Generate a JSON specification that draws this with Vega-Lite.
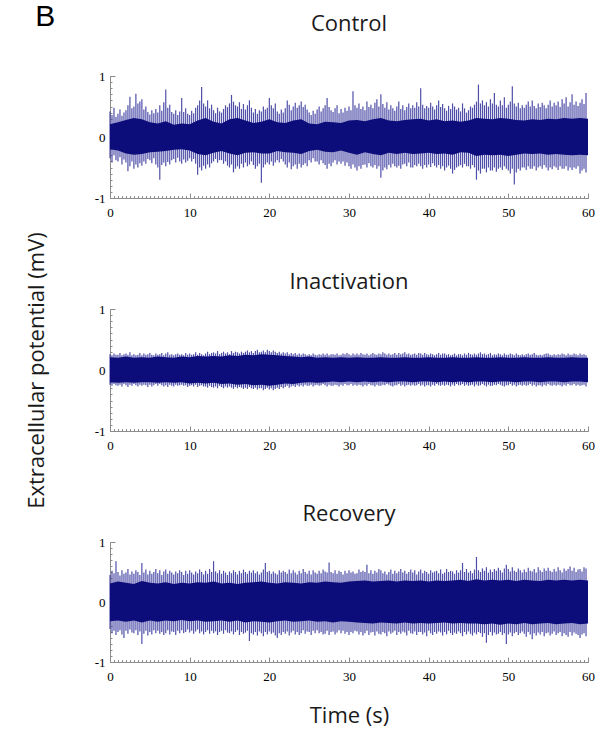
{
"$schema": "https://vega.github.io/schema/vega-lite/v6.json",
"padding": {"left": 25, "top": 2, "right": 5, "bottom": 5},
"background": "white",
"title": {"text": "B", "anchor": "start", "font": "Liberation Sans", "fontSize": 30, "fontWeight": "normal", "color": "#000", "baseline": "alphabetic", "offset": -43, "dx": 10},
"bounds": "flush",
"spacing": 111,
"vconcat": [
{
"title": {"text": "Control", "offset": 17, "frame": "group", "baseline": "alphabetic"},
"width": 478, "height": 122,
"resolve": {"axis": {"x": "independent", "y": "independent"}},
"layer": [
{"data": {"values": [
{"t":0,"h":0.42,"l":-0.35},{"t":0.25,"h":0.36,"l":-0.42},{"t":0.5,"h":0.48,"l":-0.3},{"t":0.75,"h":0.33,"l":-0.38},
{"t":1,"h":0.38,"l":-0.4},{"t":1.25,"h":0.45,"l":-0.33},{"t":1.5,"h":0.35,"l":-0.45},{"t":1.75,"h":0.4,"l":-0.37},
{"t":2,"h":0.44,"l":-0.42},{"t":2.25,"h":0.52,"l":-0.56},{"t":2.5,"h":0.66,"l":-0.48},{"t":2.75,"h":0.47,"l":-0.4},
{"t":3,"h":0.5,"l":-0.52},{"t":3.25,"h":0.71,"l":-0.45},{"t":3.5,"h":0.55,"l":-0.5},{"t":3.75,"h":0.58,"l":-0.43},
{"t":4,"h":0.62,"l":-0.47},{"t":4.25,"h":0.45,"l":-0.4},{"t":4.5,"h":0.5,"l":-0.44},{"t":4.75,"h":0.41,"l":-0.36},
{"t":5,"h":0.37,"l":-0.38},{"t":5.25,"h":0.44,"l":-0.43},{"t":5.5,"h":0.39,"l":-0.35},{"t":5.75,"h":0.46,"l":-0.45},
{"t":6,"h":0.4,"l":-0.5},{"t":6.25,"h":0.52,"l":-0.7},{"t":6.5,"h":0.43,"l":-0.46},{"t":6.75,"h":0.57,"l":-0.42},
{"t":7,"h":0.78,"l":-0.48},{"t":7.25,"h":0.48,"l":-0.41},{"t":7.5,"h":0.53,"l":-0.45},{"t":7.75,"h":0.41,"l":-0.38},
{"t":8,"h":0.38,"l":-0.36},{"t":8.25,"h":0.44,"l":-0.42},{"t":8.5,"h":0.36,"l":-0.34},{"t":8.75,"h":0.42,"l":-0.4},
{"t":9,"h":0.64,"l":-0.44},{"t":9.25,"h":0.41,"l":-0.37},{"t":9.5,"h":0.47,"l":-0.42},{"t":9.75,"h":0.38,"l":-0.39},
{"t":10,"h":0.36,"l":-0.35},{"t":10.25,"h":0.43,"l":-0.4},{"t":10.5,"h":0.39,"l":-0.36},{"t":10.75,"h":0.48,"l":-0.44},
{"t":11,"h":0.52,"l":-0.62},{"t":11.25,"h":0.6,"l":-0.5},{"t":11.5,"h":0.82,"l":-0.55},{"t":11.75,"h":0.55,"l":-0.47},
{"t":12,"h":0.5,"l":-0.52},{"t":12.25,"h":0.6,"l":-0.45},{"t":12.5,"h":0.47,"l":-0.5},{"t":12.75,"h":0.53,"l":-0.43},
{"t":13,"h":0.44,"l":-0.4},{"t":13.25,"h":0.39,"l":-0.36},{"t":13.5,"h":0.48,"l":-0.42},{"t":13.75,"h":0.42,"l":-0.38},
{"t":14,"h":0.4,"l":-0.38},{"t":14.25,"h":0.46,"l":-0.44},{"t":14.5,"h":0.52,"l":-0.4},{"t":14.75,"h":0.49,"l":-0.47},
{"t":15,"h":0.55,"l":-0.5},{"t":15.25,"h":0.69,"l":-0.45},{"t":15.5,"h":0.58,"l":-0.58},{"t":15.75,"h":0.52,"l":-0.52},
{"t":16,"h":0.5,"l":-0.48},{"t":16.25,"h":0.57,"l":-0.52},{"t":16.5,"h":0.46,"l":-0.44},{"t":16.75,"h":0.54,"l":-0.5},
{"t":17,"h":0.45,"l":-0.42},{"t":17.25,"h":0.52,"l":-0.48},{"t":17.5,"h":0.6,"l":-0.45},{"t":17.75,"h":0.48,"l":-0.4},
{"t":18,"h":0.4,"l":-0.46},{"t":18.25,"h":0.46,"l":-0.52},{"t":18.5,"h":0.38,"l":-0.48},{"t":18.75,"h":0.44,"l":-0.44},
{"t":19,"h":0.42,"l":-0.75},{"t":19.25,"h":0.5,"l":-0.5},{"t":19.5,"h":0.45,"l":-0.45},{"t":19.75,"h":0.48,"l":-0.42},
{"t":20,"h":0.64,"l":-0.45},{"t":20.25,"h":0.52,"l":-0.4},{"t":20.5,"h":0.47,"l":-0.47},{"t":20.75,"h":0.55,"l":-0.42},
{"t":21,"h":0.42,"l":-0.38},{"t":21.25,"h":0.38,"l":-0.42},{"t":21.5,"h":0.45,"l":-0.36},{"t":21.75,"h":0.4,"l":-0.4},
{"t":22,"h":0.47,"l":-0.45},{"t":22.25,"h":0.6,"l":-0.5},{"t":22.5,"h":0.53,"l":-0.42},{"t":22.75,"h":0.44,"l":-0.53},
{"t":23,"h":0.5,"l":-0.48},{"t":23.25,"h":0.56,"l":-0.45},{"t":23.5,"h":0.48,"l":-0.52},{"t":23.75,"h":0.52,"l":-0.44},
{"t":24,"h":0.58,"l":-0.5},{"t":24.25,"h":0.49,"l":-0.46},{"t":24.5,"h":0.53,"l":-0.43},{"t":24.75,"h":0.45,"l":-0.48},
{"t":25,"h":0.4,"l":-0.38},{"t":25.25,"h":0.36,"l":-0.42},{"t":25.5,"h":0.43,"l":-0.35},{"t":25.75,"h":0.38,"l":-0.4},
{"t":26,"h":0.45,"l":-0.4},{"t":26.25,"h":0.5,"l":-0.45},{"t":26.5,"h":0.42,"l":-0.38},{"t":26.75,"h":0.47,"l":-0.43},
{"t":27,"h":0.52,"l":-0.46},{"t":27.25,"h":0.64,"l":-0.52},{"t":27.5,"h":0.49,"l":-0.44},{"t":27.75,"h":0.44,"l":-0.48},
{"t":28,"h":0.41,"l":-0.42},{"t":28.25,"h":0.47,"l":-0.38},{"t":28.5,"h":0.52,"l":-0.45},{"t":28.75,"h":0.39,"l":-0.4},
{"t":29,"h":0.46,"l":-0.44},{"t":29.25,"h":0.4,"l":-0.4},{"t":29.5,"h":0.48,"l":-0.47},{"t":29.75,"h":0.43,"l":-0.42},
{"t":30,"h":0.5,"l":-0.48},{"t":30.25,"h":0.44,"l":-0.52},{"t":30.5,"h":0.75,"l":-0.45},{"t":30.75,"h":0.52,"l":-0.5},
{"t":31,"h":0.48,"l":-0.55},{"t":31.25,"h":0.55,"l":-0.48},{"t":31.5,"h":0.46,"l":-0.52},{"t":31.75,"h":0.5,"l":-0.46},
{"t":32,"h":0.44,"l":-0.45},{"t":32.25,"h":0.58,"l":-0.5},{"t":32.5,"h":0.49,"l":-0.43},{"t":32.75,"h":0.53,"l":-0.48},
{"t":33,"h":0.47,"l":-0.5},{"t":33.25,"h":0.56,"l":-0.46},{"t":33.5,"h":0.62,"l":-0.52},{"t":33.75,"h":0.5,"l":-0.48},
{"t":34,"h":0.7,"l":-0.67},{"t":34.25,"h":0.54,"l":-0.55},{"t":34.5,"h":0.48,"l":-0.5},{"t":34.75,"h":0.57,"l":-0.53},
{"t":35,"h":0.45,"l":-0.46},{"t":35.25,"h":0.52,"l":-0.5},{"t":35.5,"h":0.47,"l":-0.44},{"t":35.75,"h":0.43,"l":-0.48},
{"t":36,"h":0.5,"l":-0.5},{"t":36.25,"h":0.58,"l":-0.47},{"t":36.5,"h":0.46,"l":-0.52},{"t":36.75,"h":0.52,"l":-0.45},
{"t":37,"h":0.44,"l":-0.44},{"t":37.25,"h":0.49,"l":-0.48},{"t":37.5,"h":0.55,"l":-0.42},{"t":37.75,"h":0.47,"l":-0.5},
{"t":38,"h":0.52,"l":-0.5},{"t":38.25,"h":0.48,"l":-0.46},{"t":38.5,"h":0.57,"l":-0.48},{"t":38.75,"h":0.5,"l":-0.44},
{"t":39,"h":0.8,"l":-0.48},{"t":39.25,"h":0.53,"l":-0.52},{"t":39.5,"h":0.47,"l":-0.46},{"t":39.75,"h":0.51,"l":-0.5},
{"t":40,"h":0.48,"l":-0.45},{"t":40.25,"h":0.56,"l":-0.49},{"t":40.5,"h":0.5,"l":-0.43},{"t":40.75,"h":0.45,"l":-0.47},
{"t":41,"h":0.52,"l":-0.5},{"t":41.25,"h":0.6,"l":-0.46},{"t":41.5,"h":0.49,"l":-0.52},{"t":41.75,"h":0.54,"l":-0.48},
{"t":42,"h":0.47,"l":-0.55},{"t":42.25,"h":0.43,"l":-0.5},{"t":42.5,"h":0.51,"l":-0.47},{"t":42.75,"h":0.46,"l":-0.52},
{"t":43,"h":0.55,"l":-0.6},{"t":43.25,"h":0.5,"l":-0.54},{"t":43.5,"h":0.45,"l":-0.5},{"t":43.75,"h":0.48,"l":-0.48},
{"t":44,"h":0.42,"l":-0.46},{"t":44.25,"h":0.55,"l":-0.5},{"t":44.5,"h":0.47,"l":-0.44},{"t":44.75,"h":0.4,"l":-0.48},
{"t":45,"h":0.44,"l":-0.48},{"t":45.25,"h":0.5,"l":-0.52},{"t":45.5,"h":0.48,"l":-0.46},{"t":45.75,"h":0.53,"l":-0.5},
{"t":46,"h":0.58,"l":-0.7},{"t":46.25,"h":0.86,"l":-0.55},{"t":46.5,"h":0.55,"l":-0.6},{"t":46.75,"h":0.6,"l":-0.52},
{"t":47,"h":0.52,"l":-0.52},{"t":47.25,"h":0.57,"l":-0.58},{"t":47.5,"h":0.5,"l":-0.5},{"t":47.75,"h":0.62,"l":-0.55},
{"t":48,"h":0.55,"l":-0.55},{"t":48.25,"h":0.72,"l":-0.5},{"t":48.5,"h":0.53,"l":-0.57},{"t":48.75,"h":0.5,"l":-0.52},
{"t":49,"h":0.6,"l":-0.5},{"t":49.25,"h":0.52,"l":-0.54},{"t":49.5,"h":0.65,"l":-0.48},{"t":49.75,"h":0.48,"l":-0.52},
{"t":50,"h":0.53,"l":-0.55},{"t":50.25,"h":0.58,"l":-0.6},{"t":50.5,"h":0.83,"l":-0.52},{"t":50.75,"h":0.55,"l":-0.78},
{"t":51,"h":0.5,"l":-0.58},{"t":51.25,"h":0.56,"l":-0.52},{"t":51.5,"h":0.47,"l":-0.55},{"t":51.75,"h":0.52,"l":-0.5},
{"t":52,"h":0.48,"l":-0.5},{"t":52.25,"h":0.53,"l":-0.54},{"t":52.5,"h":0.58,"l":-0.48},{"t":52.75,"h":0.5,"l":-0.52},
{"t":53,"h":0.6,"l":-0.52},{"t":53.25,"h":0.51,"l":-0.48},{"t":53.5,"h":0.47,"l":-0.55},{"t":53.75,"h":0.55,"l":-0.5},
{"t":54,"h":0.49,"l":-0.48},{"t":54.25,"h":0.56,"l":-0.52},{"t":54.5,"h":0.52,"l":-0.46},{"t":54.75,"h":0.47,"l":-0.5},
{"t":55,"h":0.53,"l":-0.55},{"t":55.25,"h":0.6,"l":-0.5},{"t":55.5,"h":0.5,"l":-0.53},{"t":55.75,"h":0.56,"l":-0.48},
{"t":56,"h":0.52,"l":-0.5},{"t":56.25,"h":0.58,"l":-0.54},{"t":56.5,"h":0.49,"l":-0.48},{"t":56.75,"h":0.62,"l":-0.52},
{"t":57,"h":0.55,"l":-0.52},{"t":57.25,"h":0.65,"l":-0.48},{"t":57.5,"h":0.5,"l":-0.55},{"t":57.75,"h":0.57,"l":-0.5},
{"t":58,"h":0.7,"l":-0.54},{"t":58.25,"h":0.53,"l":-0.5},{"t":58.5,"h":0.58,"l":-0.52},{"t":58.75,"h":0.51,"l":-0.48},
{"t":59,"h":0.56,"l":-0.6},{"t":59.25,"h":0.62,"l":-0.55},{"t":59.5,"h":0.54,"l":-0.52},{"t":59.75,"h":0.72,"l":-0.58}
]},
 "mark": {"type": "rule", "color": "#30309a", "strokeWidth": 1.2, "opacity": 0.85},
 "encoding": {
  "x": {"field": "t", "type": "quantitative", "scale": {"domain": [0, 60], "nice": false}, "axis": {"orient": "bottom", "values": [0,10,20,30,40,50,60], "ticks": false, "labelPadding": 8, "labelFlush": false, "labelOverlap": false, "title": null}},
  "y": {"field": "l", "type": "quantitative", "scale": {"domain": [-1, 1], "nice": false}, "axis": {"orient": "left", "values": [-1,0,1], "ticks": false, "labelPadding": 5, "labelExpr": "toString(datum.value)", "title": null}},
  "y2": {"field": "h"}}},
{"data": {"name": "coreC", "values": [
{"t":0,"ch":0.21,"cl":-0.2},{"t":1,"ch":0.24,"cl":-0.22},{"t":2,"ch":0.28,"cl":-0.27},{"t":3,"ch":0.31,"cl":-0.29},{"t":4,"ch":0.29,"cl":-0.28},{"t":5,"ch":0.24,"cl":-0.25},{"t":6,"ch":0.22,"cl":-0.24},{"t":7,"ch":0.26,"cl":-0.23},{"t":8,"ch":0.2,"cl":-0.21},{"t":9,"ch":0.22,"cl":-0.2},
{"t":10,"ch":0.21,"cl":-0.22},{"t":11,"ch":0.27,"cl":-0.28},{"t":12,"ch":0.31,"cl":-0.3},{"t":13,"ch":0.25,"cl":-0.26},{"t":14,"ch":0.22,"cl":-0.23},{"t":15,"ch":0.29,"cl":-0.27},{"t":16,"ch":0.31,"cl":-0.3},{"t":17,"ch":0.27,"cl":-0.26},{"t":18,"ch":0.23,"cl":-0.25},{"t":19,"ch":0.25,"cl":-0.27},
{"t":20,"ch":0.29,"cl":-0.27},{"t":21,"ch":0.24,"cl":-0.23},{"t":22,"ch":0.23,"cl":-0.25},{"t":23,"ch":0.27,"cl":-0.26},{"t":24,"ch":0.29,"cl":-0.28},{"t":25,"ch":0.22,"cl":-0.23},{"t":26,"ch":0.21,"cl":-0.21},{"t":27,"ch":0.25,"cl":-0.24},{"t":28,"ch":0.24,"cl":-0.25},{"t":29,"ch":0.23,"cl":-0.22},
{"t":30,"ch":0.27,"cl":-0.26},{"t":31,"ch":0.28,"cl":-0.29},{"t":32,"ch":0.26,"cl":-0.25},{"t":33,"ch":0.29,"cl":-0.28},{"t":34,"ch":0.31,"cl":-0.3},{"t":35,"ch":0.27,"cl":-0.26},{"t":36,"ch":0.26,"cl":-0.28},{"t":37,"ch":0.28,"cl":-0.26},{"t":38,"ch":0.29,"cl":-0.28},{"t":39,"ch":0.3,"cl":-0.27},
{"t":40,"ch":0.27,"cl":-0.26},{"t":41,"ch":0.29,"cl":-0.28},{"t":42,"ch":0.26,"cl":-0.27},{"t":43,"ch":0.27,"cl":-0.29},{"t":44,"ch":0.25,"cl":-0.25},{"t":45,"ch":0.27,"cl":-0.26},{"t":46,"ch":0.31,"cl":-0.31},{"t":47,"ch":0.3,"cl":-0.29},{"t":48,"ch":0.29,"cl":-0.3},{"t":49,"ch":0.31,"cl":-0.29},
{"t":50,"ch":0.3,"cl":-0.31},{"t":51,"ch":0.28,"cl":-0.29},{"t":52,"ch":0.27,"cl":-0.27},{"t":53,"ch":0.29,"cl":-0.28},{"t":54,"ch":0.28,"cl":-0.27},{"t":55,"ch":0.3,"cl":-0.29},{"t":56,"ch":0.29,"cl":-0.28},{"t":57,"ch":0.31,"cl":-0.29},{"t":58,"ch":0.3,"cl":-0.3},{"t":59,"ch":0.31,"cl":-0.29},{"t":60,"ch":0.3,"cl":-0.3}
]},
 "mark": {"type": "area", "color": "#0c0c7a"},
 "encoding": {
  "x": {"field": "t", "type": "quantitative", "axis": {"orient": "bottom", "values": [0,10,20,30,40,50,60], "labels": false, "domain": false, "tickSize": -5, "title": null}},
  "y": {"field": "ch", "type": "quantitative", "stack": null, "axis": {"orient": "left", "values": [-1,0,1], "labels": false, "domain": false, "tickSize": -5, "title": null}}}},
{"data": {"name": "coreC"},
 "mark": {"type": "area", "color": "#0c0c7a"},
 "encoding": {
  "x": {"field": "t", "type": "quantitative", "axis": {"orient": "bottom", "tickCount": 120, "labels": false, "domain": false, "tickSize": -2.5, "title": null}},
  "y": {"field": "cl", "type": "quantitative", "stack": null, "axis": {"orient": "left", "tickCount": 20, "labels": false, "domain": false, "tickSize": -2, "title": null}}}}
]
},
{
"title": {"text": "Inactivation", "offset": -79, "frame": "group", "baseline": "alphabetic"},
"width": 478, "height": 122,
"resolve": {"axis": {"x": "independent", "y": "independent"}},
"layer": [
{"data": {"values": [
{"t":0,"h":0.26,"l":-0.24},{"t":0.25,"h":0.24,"l":-0.26},{"t":0.5,"h":0.27,"l":-0.23},{"t":0.75,"h":0.25,"l":-0.25},
{"t":1,"h":0.25,"l":-0.26},{"t":1.25,"h":0.28,"l":-0.24},{"t":1.5,"h":0.24,"l":-0.27},{"t":1.75,"h":0.26,"l":-0.23},
{"t":2,"h":0.27,"l":-0.25},{"t":2.25,"h":0.25,"l":-0.28},{"t":2.5,"h":0.29,"l":-0.24},{"t":2.75,"h":0.24,"l":-0.26},
{"t":3,"h":0.26,"l":-0.23},{"t":3.25,"h":0.24,"l":-0.25},{"t":3.5,"h":0.25,"l":-0.27},{"t":3.75,"h":0.28,"l":-0.24},
{"t":4,"h":0.24,"l":-0.26},{"t":4.25,"h":0.27,"l":-0.24},{"t":4.5,"h":0.25,"l":-0.25},{"t":4.75,"h":0.26,"l":-0.28},
{"t":5,"h":0.28,"l":-0.24},{"t":5.25,"h":0.25,"l":-0.27},{"t":5.5,"h":0.24,"l":-0.25},{"t":5.75,"h":0.27,"l":-0.23},
{"t":6,"h":0.25,"l":-0.26},{"t":6.25,"h":0.26,"l":-0.23},{"t":6.5,"h":0.28,"l":-0.25},{"t":6.75,"h":0.24,"l":-0.27},
{"t":7,"h":0.27,"l":-0.25},{"t":7.25,"h":0.29,"l":-0.28},{"t":7.5,"h":0.25,"l":-0.24},{"t":7.75,"h":0.26,"l":-0.26},
{"t":8,"h":0.24,"l":-0.27},{"t":8.25,"h":0.26,"l":-0.24},{"t":8.5,"h":0.27,"l":-0.26},{"t":8.75,"h":0.25,"l":-0.25},
{"t":9,"h":0.26,"l":-0.24},{"t":9.25,"h":0.24,"l":-0.26},{"t":9.5,"h":0.28,"l":-0.25},{"t":9.75,"h":0.25,"l":-0.28},
{"t":10,"h":0.27,"l":-0.26},{"t":10.25,"h":0.25,"l":-0.25},{"t":10.5,"h":0.26,"l":-0.27},{"t":10.75,"h":0.29,"l":-0.24},
{"t":11,"h":0.25,"l":-0.28},{"t":11.25,"h":0.28,"l":-0.26},{"t":11.5,"h":0.26,"l":-0.25},{"t":11.75,"h":0.24,"l":-0.27},
{"t":12,"h":0.27,"l":-0.27},{"t":12.25,"h":0.3,"l":-0.29},{"t":12.5,"h":0.26,"l":-0.26},{"t":12.75,"h":0.28,"l":-0.28},
{"t":13,"h":0.29,"l":-0.29},{"t":13.25,"h":0.27,"l":-0.27},{"t":13.5,"h":0.31,"l":-0.3},{"t":13.75,"h":0.26,"l":-0.26},
{"t":14,"h":0.28,"l":-0.28},{"t":14.25,"h":0.3,"l":-0.3},{"t":14.5,"h":0.27,"l":-0.27},{"t":14.75,"h":0.29,"l":-0.29},
{"t":15,"h":0.26,"l":-0.27},{"t":15.25,"h":0.31,"l":-0.29},{"t":15.5,"h":0.28,"l":-0.31},{"t":15.75,"h":0.3,"l":-0.28},
{"t":16,"h":0.29,"l":-0.3},{"t":16.25,"h":0.27,"l":-0.28},{"t":16.5,"h":0.3,"l":-0.29},{"t":16.75,"h":0.28,"l":-0.31},
{"t":17,"h":0.3,"l":-0.29},{"t":17.25,"h":0.32,"l":-0.31},{"t":17.5,"h":0.29,"l":-0.28},{"t":17.75,"h":0.31,"l":-0.3},
{"t":18,"h":0.28,"l":-0.31},{"t":18.25,"h":0.31,"l":-0.29},{"t":18.5,"h":0.33,"l":-0.32},{"t":18.75,"h":0.29,"l":-0.3},
{"t":19,"h":0.3,"l":-0.3},{"t":19.25,"h":0.32,"l":-0.33},{"t":19.5,"h":0.29,"l":-0.31},{"t":19.75,"h":0.33,"l":-0.29},
{"t":20,"h":0.31,"l":-0.32},{"t":20.25,"h":0.29,"l":-0.3},{"t":20.5,"h":0.32,"l":-0.33},{"t":20.75,"h":0.3,"l":-0.31},
{"t":21,"h":0.28,"l":-0.29},{"t":21.25,"h":0.3,"l":-0.31},{"t":21.5,"h":0.27,"l":-0.28},{"t":21.75,"h":0.29,"l":-0.3},
{"t":22,"h":0.27,"l":-0.28},{"t":22.25,"h":0.29,"l":-0.26},{"t":22.5,"h":0.26,"l":-0.29},{"t":22.75,"h":0.28,"l":-0.27},
{"t":23,"h":0.26,"l":-0.26},{"t":23.25,"h":0.28,"l":-0.28},{"t":23.5,"h":0.25,"l":-0.25},{"t":23.75,"h":0.27,"l":-0.27},
{"t":24,"h":0.25,"l":-0.25},{"t":24.25,"h":0.27,"l":-0.27},{"t":24.5,"h":0.26,"l":-0.24},{"t":24.75,"h":0.24,"l":-0.26},
{"t":25,"h":0.26,"l":-0.26},{"t":25.25,"h":0.24,"l":-0.24},{"t":25.5,"h":0.27,"l":-0.27},{"t":25.75,"h":0.25,"l":-0.25},
{"t":26,"h":0.24,"l":-0.24},{"t":26.25,"h":0.26,"l":-0.26},{"t":26.5,"h":0.25,"l":-0.25},{"t":26.75,"h":0.27,"l":-0.23},
{"t":27,"h":0.25,"l":-0.25},{"t":27.25,"h":0.27,"l":-0.27},{"t":27.5,"h":0.24,"l":-0.24},{"t":27.75,"h":0.26,"l":-0.26},
{"t":28,"h":0.26,"l":-0.26},{"t":28.25,"h":0.25,"l":-0.24},{"t":28.5,"h":0.27,"l":-0.25},{"t":28.75,"h":0.24,"l":-0.27},
{"t":29,"h":0.25,"l":-0.24},{"t":29.25,"h":0.27,"l":-0.26},{"t":29.5,"h":0.26,"l":-0.23},{"t":29.75,"h":0.28,"l":-0.25},
{"t":30,"h":0.26,"l":-0.25},{"t":30.25,"h":0.24,"l":-0.23},{"t":30.5,"h":0.27,"l":-0.26},{"t":30.75,"h":0.25,"l":-0.24},
{"t":31,"h":0.27,"l":-0.26},{"t":31.25,"h":0.25,"l":-0.24},{"t":31.5,"h":0.28,"l":-0.25},{"t":31.75,"h":0.26,"l":-0.27},
{"t":32,"h":0.25,"l":-0.24},{"t":32.25,"h":0.27,"l":-0.26},{"t":32.5,"h":0.24,"l":-0.23},{"t":32.75,"h":0.26,"l":-0.25},
{"t":33,"h":0.28,"l":-0.25},{"t":33.25,"h":0.26,"l":-0.27},{"t":33.5,"h":0.25,"l":-0.24},{"t":33.75,"h":0.27,"l":-0.26},
{"t":34,"h":0.26,"l":-0.26},{"t":34.25,"h":0.29,"l":-0.24},{"t":34.5,"h":0.27,"l":-0.25},{"t":34.75,"h":0.25,"l":-0.23},
{"t":35,"h":0.27,"l":-0.24},{"t":35.25,"h":0.25,"l":-0.26},{"t":35.5,"h":0.26,"l":-0.27},{"t":35.75,"h":0.28,"l":-0.25},
{"t":36,"h":0.25,"l":-0.25},{"t":36.25,"h":0.28,"l":-0.23},{"t":36.5,"h":0.26,"l":-0.26},{"t":36.75,"h":0.27,"l":-0.24},
{"t":37,"h":0.29,"l":-0.27},{"t":37.25,"h":0.26,"l":-0.25},{"t":37.5,"h":0.27,"l":-0.24},{"t":37.75,"h":0.25,"l":-0.26},
{"t":38,"h":0.26,"l":-0.24},{"t":38.25,"h":0.27,"l":-0.26},{"t":38.5,"h":0.25,"l":-0.25},{"t":38.75,"h":0.28,"l":-0.23},
{"t":39,"h":0.27,"l":-0.26},{"t":39.25,"h":0.25,"l":-0.24},{"t":39.5,"h":0.28,"l":-0.27},{"t":39.75,"h":0.26,"l":-0.25},
{"t":40,"h":0.25,"l":-0.25},{"t":40.25,"h":0.27,"l":-0.27},{"t":40.5,"h":0.26,"l":-0.24},{"t":40.75,"h":0.24,"l":-0.26},
{"t":41,"h":0.26,"l":-0.23},{"t":41.25,"h":0.28,"l":-0.25},{"t":41.5,"h":0.25,"l":-0.26},{"t":41.75,"h":0.27,"l":-0.24},
{"t":42,"h":0.27,"l":-0.26},{"t":42.25,"h":0.25,"l":-0.24},{"t":42.5,"h":0.26,"l":-0.25},{"t":42.75,"h":0.24,"l":-0.27},
{"t":43,"h":0.25,"l":-0.24},{"t":43.25,"h":0.27,"l":-0.26},{"t":43.5,"h":0.24,"l":-0.23},{"t":43.75,"h":0.26,"l":-0.25},
{"t":44,"h":0.26,"l":-0.25},{"t":44.25,"h":0.24,"l":-0.23},{"t":44.5,"h":0.27,"l":-0.26},{"t":44.75,"h":0.25,"l":-0.24},
{"t":45,"h":0.28,"l":-0.26},{"t":45.25,"h":0.26,"l":-0.25},{"t":45.5,"h":0.25,"l":-0.24},{"t":45.75,"h":0.27,"l":-0.27},
{"t":46,"h":0.25,"l":-0.24},{"t":46.25,"h":0.27,"l":-0.26},{"t":46.5,"h":0.29,"l":-0.25},{"t":46.75,"h":0.26,"l":-0.23},
{"t":47,"h":0.27,"l":-0.25},{"t":47.25,"h":0.25,"l":-0.27},{"t":47.5,"h":0.26,"l":-0.24},{"t":47.75,"h":0.28,"l":-0.26},
{"t":48,"h":0.24,"l":-0.26},{"t":48.25,"h":0.26,"l":-0.24},{"t":48.5,"h":0.25,"l":-0.25},{"t":48.75,"h":0.27,"l":-0.23},
{"t":49,"h":0.26,"l":-0.24},{"t":49.25,"h":0.24,"l":-0.26},{"t":49.5,"h":0.27,"l":-0.27},{"t":49.75,"h":0.25,"l":-0.25},
{"t":50,"h":0.25,"l":-0.25},{"t":50.25,"h":0.27,"l":-0.23},{"t":50.5,"h":0.26,"l":-0.26},{"t":50.75,"h":0.24,"l":-0.24},
{"t":51,"h":0.27,"l":-0.27},{"t":51.25,"h":0.25,"l":-0.25},{"t":51.5,"h":0.24,"l":-0.24},{"t":51.75,"h":0.26,"l":-0.26},
{"t":52,"h":0.24,"l":-0.24},{"t":52.25,"h":0.26,"l":-0.26},{"t":52.5,"h":0.27,"l":-0.25},{"t":52.75,"h":0.25,"l":-0.23},
{"t":53,"h":0.26,"l":-0.26},{"t":53.25,"h":0.28,"l":-0.24},{"t":53.5,"h":0.25,"l":-0.27},{"t":53.75,"h":0.24,"l":-0.25},
{"t":54,"h":0.25,"l":-0.25},{"t":54.25,"h":0.24,"l":-0.27},{"t":54.5,"h":0.26,"l":-0.24},{"t":54.75,"h":0.27,"l":-0.26},
{"t":55,"h":0.27,"l":-0.23},{"t":55.25,"h":0.25,"l":-0.25},{"t":55.5,"h":0.24,"l":-0.26},{"t":55.75,"h":0.26,"l":-0.24},
{"t":56,"h":0.24,"l":-0.26},{"t":56.25,"h":0.26,"l":-0.24},{"t":56.5,"h":0.25,"l":-0.25},{"t":56.75,"h":0.27,"l":-0.27},
{"t":57,"h":0.26,"l":-0.24},{"t":57.25,"h":0.24,"l":-0.26},{"t":57.5,"h":0.27,"l":-0.23},{"t":57.75,"h":0.25,"l":-0.25},
{"t":58,"h":0.25,"l":-0.25},{"t":58.25,"h":0.27,"l":-0.23},{"t":58.5,"h":0.26,"l":-0.26},{"t":58.75,"h":0.24,"l":-0.24},
{"t":59,"h":0.27,"l":-0.26},{"t":59.25,"h":0.25,"l":-0.25},{"t":59.5,"h":0.26,"l":-0.24},{"t":59.75,"h":0.24,"l":-0.27}
]},
 "mark": {"type": "rule", "color": "#30309a", "strokeWidth": 1.2, "opacity": 0.85},
 "encoding": {
  "x": {"field": "t", "type": "quantitative", "scale": {"domain": [0, 60], "nice": false}, "axis": {"orient": "bottom", "values": [0,10,20,30,40,50,60], "ticks": false, "labelPadding": 8, "labelFlush": false, "labelOverlap": false, "title": null}},
  "y": {"field": "l", "type": "quantitative", "scale": {"domain": [-1, 1], "nice": false}, "axis": {"orient": "left", "values": [-1,0,1], "ticks": false, "labelPadding": 5, "labelExpr": "toString(datum.value)", "title": "Extracellular potential (mV)", "titlePadding": 46}},
  "y2": {"field": "h"}}},
{"data": {"name": "coreI", "values": [
{"t":0,"ch":0.21,"cl":-0.2},{"t":1,"ch":0.2,"cl":-0.21},{"t":2,"ch":0.22,"cl":-0.2},{"t":3,"ch":0.2,"cl":-0.21},{"t":4,"ch":0.21,"cl":-0.2},{"t":5,"ch":0.2,"cl":-0.2},{"t":6,"ch":0.22,"cl":-0.21},{"t":7,"ch":0.21,"cl":-0.2},{"t":8,"ch":0.2,"cl":-0.21},{"t":9,"ch":0.22,"cl":-0.2},
{"t":10,"ch":0.21,"cl":-0.22},{"t":11,"ch":0.23,"cl":-0.21},{"t":12,"ch":0.22,"cl":-0.22},{"t":13,"ch":0.23,"cl":-0.21},{"t":14,"ch":0.22,"cl":-0.23},{"t":15,"ch":0.24,"cl":-0.22},{"t":16,"ch":0.23,"cl":-0.24},{"t":17,"ch":0.25,"cl":-0.23},{"t":18,"ch":0.24,"cl":-0.25},{"t":19,"ch":0.26,"cl":-0.24},
{"t":20,"ch":0.25,"cl":-0.26},{"t":21,"ch":0.24,"cl":-0.24},{"t":22,"ch":0.23,"cl":-0.22},{"t":23,"ch":0.22,"cl":-0.23},{"t":24,"ch":0.21,"cl":-0.21},{"t":25,"ch":0.22,"cl":-0.2},{"t":26,"ch":0.2,"cl":-0.21},{"t":27,"ch":0.21,"cl":-0.2},{"t":28,"ch":0.2,"cl":-0.19},{"t":29,"ch":0.21,"cl":-0.2},
{"t":30,"ch":0.2,"cl":-0.19},{"t":31,"ch":0.21,"cl":-0.2},{"t":32,"ch":0.2,"cl":-0.19},{"t":33,"ch":0.2,"cl":-0.2},{"t":34,"ch":0.21,"cl":-0.19},{"t":35,"ch":0.2,"cl":-0.2},{"t":36,"ch":0.2,"cl":-0.19},{"t":37,"ch":0.21,"cl":-0.19},{"t":38,"ch":0.2,"cl":-0.2},{"t":39,"ch":0.2,"cl":-0.19},
{"t":40,"ch":0.21,"cl":-0.19},{"t":41,"ch":0.2,"cl":-0.2},{"t":42,"ch":0.2,"cl":-0.19},{"t":43,"ch":0.21,"cl":-0.2},{"t":44,"ch":0.2,"cl":-0.19},{"t":45,"ch":0.2,"cl":-0.2},{"t":46,"ch":0.21,"cl":-0.19},{"t":47,"ch":0.2,"cl":-0.19},{"t":48,"ch":0.2,"cl":-0.2},{"t":49,"ch":0.21,"cl":-0.19},
{"t":50,"ch":0.2,"cl":-0.19},{"t":51,"ch":0.2,"cl":-0.2},{"t":52,"ch":0.21,"cl":-0.19},{"t":53,"ch":0.2,"cl":-0.19},{"t":54,"ch":0.2,"cl":-0.2},{"t":55,"ch":0.21,"cl":-0.19},{"t":56,"ch":0.2,"cl":-0.19},{"t":57,"ch":0.2,"cl":-0.2},{"t":58,"ch":0.21,"cl":-0.19},{"t":59,"ch":0.2,"cl":-0.19},{"t":60,"ch":0.2,"cl":-0.2}
]},
 "mark": {"type": "area", "color": "#0c0c7a"},
 "encoding": {
  "x": {"field": "t", "type": "quantitative", "axis": {"orient": "bottom", "values": [0,10,20,30,40,50,60], "labels": false, "domain": false, "tickSize": -5, "title": null}},
  "y": {"field": "ch", "type": "quantitative", "stack": null, "axis": {"orient": "left", "values": [-1,0,1], "labels": false, "domain": false, "tickSize": -5, "title": null}}}},
{"data": {"name": "coreI"},
 "mark": {"type": "area", "color": "#0c0c7a"},
 "encoding": {
  "x": {"field": "t", "type": "quantitative", "axis": {"orient": "bottom", "tickCount": 120, "labels": false, "domain": false, "tickSize": -2.5, "title": null}},
  "y": {"field": "cl", "type": "quantitative", "stack": null, "axis": {"orient": "left", "tickCount": 20, "labels": false, "domain": false, "tickSize": -2, "title": null}}}}
]
},
{
"title": {"text": "Recovery", "offset": -7, "frame": "group", "baseline": "alphabetic"},
"width": 478, "height": 120,
"resolve": {"axis": {"x": "independent", "y": "independent"}},
"layer": [
{"data": {"values": [
{"t":0,"h":0.45,"l":-0.45},{"t":0.25,"h":0.52,"l":-0.52},{"t":0.5,"h":0.48,"l":-0.48},{"t":0.75,"h":0.68,"l":-0.55},
{"t":1,"h":0.5,"l":-0.5},{"t":1.25,"h":0.44,"l":-0.47},{"t":1.5,"h":0.53,"l":-0.54},{"t":1.75,"h":0.47,"l":-0.6},
{"t":2,"h":0.49,"l":-0.48},{"t":2.25,"h":0.55,"l":-0.53},{"t":2.5,"h":0.46,"l":-0.46},{"t":2.75,"h":0.51,"l":-0.51},
{"t":3,"h":0.47,"l":-0.52},{"t":3.25,"h":0.53,"l":-0.47},{"t":3.5,"h":0.5,"l":-0.55},{"t":3.75,"h":0.45,"l":-0.49},
{"t":4,"h":0.65,"l":-0.7},{"t":4.25,"h":0.49,"l":-0.53},{"t":4.5,"h":0.54,"l":-0.48},{"t":4.75,"h":0.46,"l":-0.56},
{"t":5,"h":0.52,"l":-0.5},{"t":5.25,"h":0.47,"l":-0.54},{"t":5.5,"h":0.5,"l":-0.47},{"t":5.75,"h":0.55,"l":-0.52},
{"t":6,"h":0.48,"l":-0.48},{"t":6.25,"h":0.53,"l":-0.53},{"t":6.5,"h":0.45,"l":-0.5},{"t":6.75,"h":0.51,"l":-0.55},
{"t":7,"h":0.54,"l":-0.52},{"t":7.25,"h":0.47,"l":-0.47},{"t":7.5,"h":0.52,"l":-0.54},{"t":7.75,"h":0.49,"l":-0.49},
{"t":8,"h":0.46,"l":-0.5},{"t":8.25,"h":0.51,"l":-0.55},{"t":8.5,"h":0.48,"l":-0.48},{"t":8.75,"h":0.53,"l":-0.52},
{"t":9,"h":0.5,"l":-0.47},{"t":9.25,"h":0.45,"l":-0.52},{"t":9.5,"h":0.52,"l":-0.5},{"t":9.75,"h":0.47,"l":-0.46},
{"t":10,"h":0.53,"l":-0.51},{"t":10.25,"h":0.49,"l":-0.48},{"t":10.5,"h":0.46,"l":-0.53},{"t":10.75,"h":0.51,"l":-0.49},
{"t":11,"h":0.48,"l":-0.46},{"t":11.25,"h":0.54,"l":-0.52},{"t":11.5,"h":0.5,"l":-0.49},{"t":11.75,"h":0.46,"l":-0.54},
{"t":12,"h":0.52,"l":-0.5},{"t":12.25,"h":0.47,"l":-0.47},{"t":12.5,"h":0.55,"l":-0.53},{"t":12.75,"h":0.5,"l":-0.48},
{"t":13,"h":0.68,"l":-0.52},{"t":13.25,"h":0.51,"l":-0.49},{"t":13.5,"h":0.48,"l":-0.55},{"t":13.75,"h":0.53,"l":-0.5},
{"t":14,"h":0.47,"l":-0.48},{"t":14.25,"h":0.52,"l":-0.53},{"t":14.5,"h":0.49,"l":-0.47},{"t":14.75,"h":0.45,"l":-0.51},
{"t":15,"h":0.51,"l":-0.52},{"t":15.25,"h":0.48,"l":-0.49},{"t":15.5,"h":0.53,"l":-0.54},{"t":15.75,"h":0.5,"l":-0.5},
{"t":16,"h":0.46,"l":-0.47},{"t":16.25,"h":0.52,"l":-0.55},{"t":16.5,"h":0.48,"l":-0.5},{"t":16.75,"h":0.54,"l":-0.53},
{"t":17,"h":0.5,"l":-0.51},{"t":17.25,"h":0.47,"l":-0.48},{"t":17.5,"h":0.52,"l":-0.65},{"t":17.75,"h":0.49,"l":-0.52},
{"t":18,"h":0.53,"l":-0.54},{"t":18.25,"h":0.48,"l":-0.5},{"t":18.5,"h":0.51,"l":-0.56},{"t":18.75,"h":0.46,"l":-0.49},
{"t":19,"h":0.49,"l":-0.52},{"t":19.25,"h":0.54,"l":-0.57},{"t":19.5,"h":0.65,"l":-0.5},{"t":19.75,"h":0.5,"l":-0.54},
{"t":20,"h":0.52,"l":-0.49},{"t":20.25,"h":0.47,"l":-0.53},{"t":20.5,"h":0.51,"l":-0.51},{"t":20.75,"h":0.48,"l":-0.56},
{"t":21,"h":0.46,"l":-0.6},{"t":21.25,"h":0.53,"l":-0.52},{"t":21.5,"h":0.49,"l":-0.55},{"t":21.75,"h":0.52,"l":-0.5},
{"t":22,"h":0.5,"l":-0.53},{"t":22.25,"h":0.47,"l":-0.49},{"t":22.5,"h":0.54,"l":-0.56},{"t":22.75,"h":0.48,"l":-0.51},
{"t":23,"h":0.53,"l":-0.48},{"t":23.25,"h":0.49,"l":-0.54},{"t":23.5,"h":0.46,"l":-0.5},{"t":23.75,"h":0.52,"l":-0.55},
{"t":24,"h":0.48,"l":-0.52},{"t":24.25,"h":0.55,"l":-0.47},{"t":24.5,"h":0.5,"l":-0.53},{"t":24.75,"h":0.47,"l":-0.49},
{"t":25,"h":0.52,"l":-0.5},{"t":25.25,"h":0.46,"l":-0.55},{"t":25.5,"h":0.53,"l":-0.48},{"t":25.75,"h":0.49,"l":-0.52},
{"t":26,"h":0.47,"l":-0.47},{"t":26.25,"h":0.52,"l":-0.52},{"t":26.5,"h":0.48,"l":-0.5},{"t":26.75,"h":0.54,"l":-0.54},
{"t":27,"h":0.51,"l":-0.53},{"t":27.25,"h":0.49,"l":-0.48},{"t":27.5,"h":0.66,"l":-0.55},{"t":27.75,"h":0.5,"l":-0.5},
{"t":28,"h":0.48,"l":-0.49},{"t":28.25,"h":0.53,"l":-0.54},{"t":28.5,"h":0.47,"l":-0.51},{"t":28.75,"h":0.52,"l":-0.47},
{"t":29,"h":0.5,"l":-0.52},{"t":29.25,"h":0.46,"l":-0.48},{"t":29.5,"h":0.52,"l":-0.53},{"t":29.75,"h":0.48,"l":-0.5},
{"t":30,"h":0.53,"l":-0.55},{"t":30.25,"h":0.49,"l":-0.5},{"t":30.5,"h":0.51,"l":-0.52},{"t":30.75,"h":0.47,"l":-0.48},
{"t":31,"h":0.48,"l":-0.49},{"t":31.25,"h":0.54,"l":-0.54},{"t":31.5,"h":0.5,"l":-0.5},{"t":31.75,"h":0.52,"l":-0.56},
{"t":32,"h":0.5,"l":-0.52},{"t":32.25,"h":0.62,"l":-0.48},{"t":32.5,"h":0.48,"l":-0.55},{"t":32.75,"h":0.53,"l":-0.51},
{"t":33,"h":0.47,"l":-0.5},{"t":33.25,"h":0.52,"l":-0.56},{"t":33.5,"h":0.49,"l":-0.49},{"t":33.75,"h":0.55,"l":-0.53},
{"t":34,"h":0.53,"l":-0.54},{"t":34.25,"h":0.48,"l":-0.5},{"t":34.5,"h":0.51,"l":-0.52},{"t":34.75,"h":0.46,"l":-0.57},
{"t":35,"h":0.5,"l":-0.49},{"t":35.25,"h":0.54,"l":-0.53},{"t":35.5,"h":0.47,"l":-0.51},{"t":35.75,"h":0.52,"l":-0.48},
{"t":36,"h":0.48,"l":-0.55},{"t":36.25,"h":0.51,"l":-0.5},{"t":36.5,"h":0.55,"l":-0.53},{"t":36.75,"h":0.49,"l":-0.49},
{"t":37,"h":0.52,"l":-0.51},{"t":37.25,"h":0.47,"l":-0.56},{"t":37.5,"h":0.5,"l":-0.48},{"t":37.75,"h":0.54,"l":-0.52},
{"t":38,"h":0.49,"l":-0.53},{"t":38.25,"h":0.53,"l":-0.49},{"t":38.5,"h":0.46,"l":-0.55},{"t":38.75,"h":0.51,"l":-0.5},
{"t":39,"h":0.54,"l":-0.5},{"t":39.25,"h":0.48,"l":-0.54},{"t":39.5,"h":0.52,"l":-0.51},{"t":39.75,"h":0.5,"l":-0.57},
{"t":40,"h":0.47,"l":-0.48},{"t":40.25,"h":0.53,"l":-0.52},{"t":40.5,"h":0.49,"l":-0.55},{"t":40.75,"h":0.51,"l":-0.5},
{"t":41,"h":0.52,"l":-0.53},{"t":41.25,"h":0.48,"l":-0.49},{"t":41.5,"h":0.54,"l":-0.51},{"t":41.75,"h":0.47,"l":-0.56},
{"t":42,"h":0.49,"l":-0.5},{"t":42.25,"h":0.55,"l":-0.54},{"t":42.5,"h":0.5,"l":-0.48},{"t":42.75,"h":0.52,"l":-0.52},
{"t":43,"h":0.51,"l":-0.55},{"t":43.25,"h":0.47,"l":-0.51},{"t":43.5,"h":0.53,"l":-0.53},{"t":43.75,"h":0.49,"l":-0.49},
{"t":44,"h":0.53,"l":-0.52},{"t":44.25,"h":0.65,"l":-0.57},{"t":44.5,"h":0.5,"l":-0.5},{"t":44.75,"h":0.55,"l":-0.54},
{"t":45,"h":0.49,"l":-0.49},{"t":45.25,"h":0.52,"l":-0.53},{"t":45.5,"h":0.48,"l":-0.56},{"t":45.75,"h":0.54,"l":-0.51},
{"t":46,"h":0.75,"l":-0.54},{"t":46.25,"h":0.53,"l":-0.5},{"t":46.5,"h":0.5,"l":-0.52},{"t":46.75,"h":0.56,"l":-0.58},
{"t":47,"h":0.52,"l":-0.52},{"t":47.25,"h":0.58,"l":-0.68},{"t":47.5,"h":0.49,"l":-0.55},{"t":47.75,"h":0.54,"l":-0.5},
{"t":48,"h":0.5,"l":-0.56},{"t":48.25,"h":0.55,"l":-0.51},{"t":48.5,"h":0.52,"l":-0.54},{"t":48.75,"h":0.57,"l":-0.53},
{"t":49,"h":0.53,"l":-0.5},{"t":49.25,"h":0.49,"l":-0.55},{"t":49.5,"h":0.56,"l":-0.52},{"t":49.75,"h":0.62,"l":-0.7},
{"t":50,"h":0.55,"l":-0.54},{"t":50.25,"h":0.51,"l":-0.51},{"t":50.5,"h":0.58,"l":-0.57},{"t":50.75,"h":0.52,"l":-0.52},
{"t":51,"h":0.5,"l":-0.5},{"t":51.25,"h":0.56,"l":-0.55},{"t":51.5,"h":0.53,"l":-0.52},{"t":51.75,"h":0.49,"l":-0.49},
{"t":52,"h":0.54,"l":-0.53},{"t":52.25,"h":0.5,"l":-0.58},{"t":52.5,"h":0.57,"l":-0.5},{"t":52.75,"h":0.52,"l":-0.54},
{"t":53,"h":0.51,"l":-0.62},{"t":53.25,"h":0.55,"l":-0.52},{"t":53.5,"h":0.49,"l":-0.56},{"t":53.75,"h":0.58,"l":-0.51},
{"t":54,"h":0.53,"l":-0.54},{"t":54.25,"h":0.5,"l":-0.5},{"t":54.5,"h":0.56,"l":-0.57},{"t":54.75,"h":0.52,"l":-0.52},
{"t":55,"h":0.57,"l":-0.51},{"t":55.25,"h":0.52,"l":-0.56},{"t":55.5,"h":0.5,"l":-0.53},{"t":55.75,"h":0.55,"l":-0.49},
{"t":56,"h":0.51,"l":-0.55},{"t":56.25,"h":0.58,"l":-0.52},{"t":56.5,"h":0.53,"l":-0.5},{"t":56.75,"h":0.49,"l":-0.57},
{"t":57,"h":0.56,"l":-0.52},{"t":57.25,"h":0.52,"l":-0.55},{"t":57.5,"h":0.55,"l":-0.58},{"t":57.75,"h":0.59,"l":-0.5},
{"t":58,"h":0.52,"l":-0.56},{"t":58.25,"h":0.57,"l":-0.51},{"t":58.5,"h":0.5,"l":-0.53},{"t":58.75,"h":0.54,"l":-0.55},
{"t":59,"h":0.55,"l":-0.6},{"t":59.25,"h":0.51,"l":-0.54},{"t":59.5,"h":0.58,"l":-0.52},{"t":59.75,"h":0.56,"l":-0.57}
]},
 "mark": {"type": "rule", "color": "#30309a", "strokeWidth": 1.2, "opacity": 0.85},
 "encoding": {
  "x": {"field": "t", "type": "quantitative", "scale": {"domain": [0, 60], "nice": false}, "axis": {"orient": "bottom", "values": [0,10,20,30,40,50,60], "ticks": false, "labelPadding": 8, "labelFlush": false, "labelOverlap": false, "title": "Time (s)", "titlePadding": 22}},
  "y": {"field": "l", "type": "quantitative", "scale": {"domain": [-1, 1], "nice": false}, "axis": {"orient": "left", "values": [-1,0,1], "ticks": false, "labelPadding": 5, "labelExpr": "toString(datum.value)", "title": null}},
  "y2": {"field": "h"}}},
{"data": {"name": "coreR", "values": [
{"t":0,"ch":0.31,"cl":-0.32},{"t":1,"ch":0.34,"cl":-0.31},{"t":2,"ch":0.32,"cl":-0.33},{"t":3,"ch":0.3,"cl":-0.31},{"t":4,"ch":0.35,"cl":-0.34},{"t":5,"ch":0.32,"cl":-0.31},{"t":6,"ch":0.31,"cl":-0.33},{"t":7,"ch":0.33,"cl":-0.31},{"t":8,"ch":0.3,"cl":-0.32},{"t":9,"ch":0.32,"cl":-0.3},
{"t":10,"ch":0.31,"cl":-0.32},{"t":11,"ch":0.33,"cl":-0.31},{"t":12,"ch":0.32,"cl":-0.33},{"t":13,"ch":0.34,"cl":-0.32},{"t":14,"ch":0.31,"cl":-0.31},{"t":15,"ch":0.32,"cl":-0.33},{"t":16,"ch":0.3,"cl":-0.31},{"t":17,"ch":0.32,"cl":-0.34},{"t":18,"ch":0.33,"cl":-0.32},{"t":19,"ch":0.34,"cl":-0.33},
{"t":20,"ch":0.32,"cl":-0.34},{"t":21,"ch":0.31,"cl":-0.32},{"t":22,"ch":0.33,"cl":-0.31},{"t":23,"ch":0.32,"cl":-0.33},{"t":24,"ch":0.31,"cl":-0.32},{"t":25,"ch":0.33,"cl":-0.31},{"t":26,"ch":0.32,"cl":-0.33},{"t":27,"ch":0.34,"cl":-0.32},{"t":28,"ch":0.33,"cl":-0.34},{"t":29,"ch":0.32,"cl":-0.32},
{"t":30,"ch":0.34,"cl":-0.33},{"t":31,"ch":0.35,"cl":-0.34},{"t":32,"ch":0.36,"cl":-0.35},{"t":33,"ch":0.34,"cl":-0.36},{"t":34,"ch":0.35,"cl":-0.34},{"t":35,"ch":0.36,"cl":-0.35},{"t":36,"ch":0.34,"cl":-0.36},{"t":37,"ch":0.36,"cl":-0.34},{"t":38,"ch":0.35,"cl":-0.36},{"t":39,"ch":0.36,"cl":-0.35},
{"t":40,"ch":0.34,"cl":-0.36},{"t":41,"ch":0.36,"cl":-0.35},{"t":42,"ch":0.35,"cl":-0.34},{"t":43,"ch":0.36,"cl":-0.36},{"t":44,"ch":0.37,"cl":-0.35},{"t":45,"ch":0.35,"cl":-0.36},{"t":46,"ch":0.38,"cl":-0.36},{"t":47,"ch":0.36,"cl":-0.37},{"t":48,"ch":0.37,"cl":-0.36},{"t":49,"ch":0.36,"cl":-0.38},
{"t":50,"ch":0.37,"cl":-0.36},{"t":51,"ch":0.35,"cl":-0.37},{"t":52,"ch":0.37,"cl":-0.35},{"t":53,"ch":0.36,"cl":-0.37},{"t":54,"ch":0.35,"cl":-0.36},{"t":55,"ch":0.37,"cl":-0.35},{"t":56,"ch":0.36,"cl":-0.37},{"t":57,"ch":0.37,"cl":-0.36},{"t":58,"ch":0.36,"cl":-0.35},{"t":59,"ch":0.37,"cl":-0.37},{"t":60,"ch":0.36,"cl":-0.36}
]},
 "mark": {"type": "area", "color": "#0c0c7a"},
 "encoding": {
  "x": {"field": "t", "type": "quantitative", "axis": {"orient": "bottom", "values": [0,10,20,30,40,50,60], "labels": false, "domain": false, "tickSize": -5, "title": null}},
  "y": {"field": "ch", "type": "quantitative", "stack": null, "axis": {"orient": "left", "values": [-1,0,1], "labels": false, "domain": false, "tickSize": -5, "title": null}}}},
{"data": {"name": "coreR"},
 "mark": {"type": "area", "color": "#0c0c7a"},
 "encoding": {
  "x": {"field": "t", "type": "quantitative", "axis": {"orient": "bottom", "tickCount": 120, "labels": false, "domain": false, "tickSize": -2.5, "title": null}},
  "y": {"field": "cl", "type": "quantitative", "stack": null, "axis": {"orient": "left", "tickCount": 20, "labels": false, "domain": false, "tickSize": -2, "title": null}}}}
]
}
],
"config": {
 "view": {"stroke": null},
 "axis": {"grid": false, "domainColor": "#8c8c8c", "tickColor": "#8c8c8c", "labelFont": "Liberation Serif", "labelFontSize": 13, "labelColor": "#000", "titleFont": "Open Sans", "titleFontSize": 22, "titleFontWeight": "normal", "titleColor": "#1a1a1a"},
 "title": {"font": "Open Sans", "fontSize": 22, "fontWeight": "normal", "color": "#1a1a1a"}
}
}
